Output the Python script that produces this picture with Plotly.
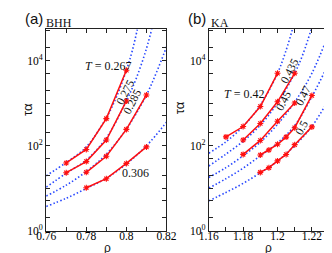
import plotly.graph_objects as go

W, H = 332, 253

# ---------------- Panel (a) BHH ----------------
a_T = ["0.267", "0.275", "0.285", "0.306"]
a_rho = [
    [0.77, 0.78, 0.79, 0.80],
    [0.77, 0.78, 0.79, 0.80],
    [0.78, 0.79, 0.80, 0.81],
    [0.78, 0.79, 0.80, 0.81],
]
a_tau = [
    [39, 81, 430, 5900],
    [23, 42, 135, 1120],
    [23.5, 56, 240, 1550],
    [10.2, 16.6, 38, 93],
]
a_fit_rho = [
    [0.76, 0.77, 0.78, 0.79, 0.795, 0.80, 0.803, 0.806],
    [0.76, 0.77, 0.78, 0.79, 0.80, 0.805, 0.81, 0.8135],
    [0.76, 0.77, 0.78, 0.79, 0.80, 0.81, 0.815, 0.82],
    [0.76, 0.77, 0.78, 0.79, 0.80, 0.81, 0.82],
]
a_fit_tau = [
    [19.5, 40, 93, 450, 1380, 5900, 17400, 71000],
    [10.5, 22.4, 45.7, 151, 1120, 3890, 19050, 79400],
    [6.5, 11.7, 24.5, 63, 245, 1550, 5250, 20900],
    [3.7, 5.75, 9.8, 17, 37, 98, 355],
]

# ---------------- Panel (b) KA ----------------
b_T = ["0.42", "0.435", "0.45", "0.47", "0.5"]
b_rho = [
    [1.17, 1.18, 1.19, 1.20],
    [1.18, 1.19, 1.20, 1.21],
    [1.18, 1.19, 1.20, 1.21],
    [1.19, 1.195, 1.20, 1.205, 1.21, 1.22],
    [1.19, 1.195, 1.20, 1.205, 1.21, 1.22],
]
b_tau = [
    [160, 280, 830, 5000],
    [135, 331, 1070, 5000],
    [62, 132, 372, 1000],
    [60, 79, 107, 158, 263, 1510],
    [23.4, 30.2, 43.6, 61.7, 105, 275],
]
b_fit_rho = [
    [1.16, 1.17, 1.18, 1.19, 1.20, 1.205, 1.2095],
    [1.16, 1.17, 1.18, 1.19, 1.20, 1.21, 1.215, 1.2205],
    [1.16, 1.17, 1.18, 1.19, 1.20, 1.21, 1.22, 1.23],
    [1.16, 1.17, 1.18, 1.19, 1.20, 1.21, 1.22, 1.23],
    [1.16, 1.17, 1.18, 1.19, 1.20, 1.21, 1.22, 1.23],
]
b_fit_tau = [
    [66, 123, 282, 891, 5010, 17400, 70800],
    [33, 63, 126, 302, 1000, 5010, 14800, 70800],
    [17.8, 30.2, 57.5, 120, 316, 1050, 5010, 44700],
    [10, 16.6, 29.5, 57.5, 115, 295, 1410, 8900],
    [5.0, 7.9, 12.9, 22.9, 42.7, 100, 282, 1260],
]

# ticks
y_tickvals = [1, 2, 5, 10, 20, 50, 100, 200, 500, 1000, 2000, 5000, 10000, 20000, 50000]
y_ticktext = ["10<sup>0</sup>", "", "", "", "", "", "10<sup>2</sup>", "", "", "", "", "",
              "10<sup>4</sup>", "", ""]
a_xtickvals = [0.76, 0.77, 0.78, 0.79, 0.80, 0.81, 0.82]
a_xticktext = ["0.76", "", "0.78", "", "0.8", "", "0.82"]
b_xtickvals = [1.16, 1.17, 1.18, 1.19, 1.20, 1.21, 1.22, 1.23]
b_xticktext = ["1.16", "", "1.18", "", "1.2", "", "1.22", ""]

RED = "#ff1010"
BLUE = "#2848ff"
SERIF = "Liberation Serif"
SANS = "Liberation Sans"

fig = go.Figure()

def add_panel(fit_rho, fit_tau, rho, tau, xa, ya):
    for fr, ft in zip(fit_rho, fit_tau):
        fig.add_trace(go.Scatter(x=fr, y=ft, mode="lines", xaxis=xa, yaxis=ya,
                                 line=dict(color=BLUE, width=1.6, dash="1.5px,2.2px",
                                           shape="spline", smoothing=1.0),
                                 showlegend=False, hoverinfo="skip"))
    for r, t in zip(rho, tau):
        fig.add_trace(go.Scatter(x=r, y=t, mode="lines+markers", xaxis=xa, yaxis=ya,
                                 line=dict(color=RED, width=1.5),
                                 marker=dict(symbol="asterisk-open", size=5, color=RED,
                                             line=dict(color=RED, width=1.1)),
                                 showlegend=False, hoverinfo="skip"))

add_panel(a_fit_rho, a_fit_tau, a_rho, a_tau, "x", "y")
add_panel(b_fit_rho, b_fit_tau, b_rho, b_tau, "x2", "y2")

def px(x):
    return x / W

def py(y):
    return 1 - y / H

axis_common = dict(showline=True, linecolor="#222", linewidth=1, mirror="ticks",
                   ticks="inside", ticklen=4, tickwidth=1, tickcolor="#222",
                   showgrid=False, zeroline=False,
                   tickfont=dict(family=SERIF, size=11.5, color="black"))

yrange = [0, 4.73]
fig.update_layout(
    width=W, height=H,
    margin=dict(l=0, r=0, t=0, b=0),
    paper_bgcolor="white", plot_bgcolor="white",
    xaxis=dict(domain=[px(30), px(158)], range=[0.76, 0.82], anchor="y",
               ticklabelstandoff=-5,
               tickmode="array", tickvals=a_xtickvals, ticktext=a_xticktext, **axis_common),
    yaxis=dict(domain=[py(228), py(22)], type="log", range=yrange, anchor="x",
               tickmode="array", tickvals=y_tickvals, ticktext=y_ticktext, **axis_common),
    xaxis2=dict(domain=[px(203), px(331)], range=[1.16, 1.23], anchor="y2",
                ticklabelstandoff=-5,
                tickmode="array", tickvals=b_xtickvals, ticktext=b_xticktext, **axis_common),
    yaxis2=dict(domain=[py(228), py(22)], type="log", range=yrange, anchor="x2",
                tickmode="array", tickvals=y_tickvals, ticktext=y_ticktext, **axis_common),
)

def ann(text, x, y, size=12, family=SERIF, angle=0, xanchor="center", yanchor="middle"):
    fig.add_annotation(text=text, x=px(x), y=py(y), xref="paper", yref="paper",
                       showarrow=False, textangle=angle, xanchor=xanchor, yanchor=yanchor,
                       font=dict(family=family, size=size, color="#111"))

# panel titles
ann("(a)", 16.5, 11, size=15, family=SANS)
ann("BHH", 44, 15.5, size=12)
ann("(b)", 191, 11, size=15, family=SANS)
ann("KA", 214.5, 15.5, size=12)

# axis titles
ann("τα", 10, 104, size=13, family=SANS, angle=-90)
ann("τα", 172, 102, size=13, family=SANS, angle=-90)
ann("ρ", 95, 245.5, size=12, family=SANS)
ann("ρ", 267, 245.5, size=12, family=SANS)

# curve labels (a)
ann("<i>T</i> = " + a_T[0], 96, 59, size=12)
ann(a_T[1], 114, 86, size=11.5, angle=-63)
ann(a_T[2], 121, 96, size=11.5, angle=-63)
ann(a_T[3], 125, 169, size=12)

# curve labels (b)
ann("<i>T</i> = " + b_T[0], 241, 88, size=12)
ann(b_T[1], 289, 65, size=11.5, angle=-63)
ann(b_T[2], 282, 95, size=11.5, angle=-63)
ann(b_T[3], 303, 90, size=11.5, angle=-63)
ann(b_T[4], 302, 122, size=11.5, angle=-63)

fig.write_html("out.html")
